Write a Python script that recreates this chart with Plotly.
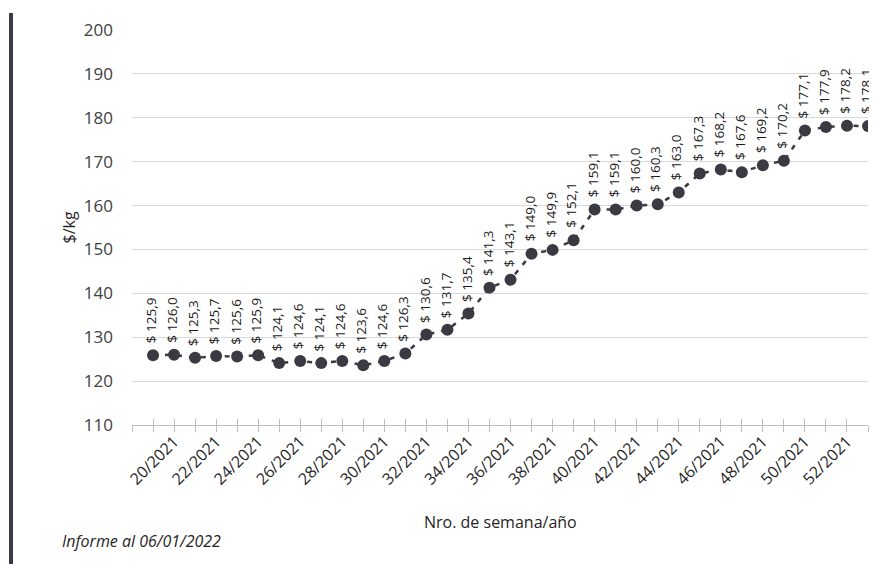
import plotly.graph_objects as go

weeks = ["19/2021", "20/2021", "21/2021", "22/2021", "23/2021", "24/2021", "25/2021",
         "26/2021", "27/2021", "28/2021", "29/2021", "30/2021", "31/2021", "32/2021",
         "33/2021", "34/2021", "35/2021", "36/2021", "37/2021", "38/2021", "39/2021",
         "40/2021", "41/2021", "42/2021", "43/2021", "44/2021", "45/2021", "46/2021",
         "47/2021", "48/2021", "49/2021", "50/2021", "51/2021", "52/2021", "53/2021"]
prices = [125.9, 126.0, 125.3, 125.7, 125.6, 125.9, 124.1, 124.6, 124.1, 124.6, 123.6,
          124.6, 126.3, 130.6, 131.7, 135.4, 141.3, 143.1, 149.0, 149.9, 152.1, 159.1,
          159.1, 160.0, 160.3, 163.0, 167.3, 168.2, 167.6, 169.2, 170.2, 177.1, 177.9,
          178.2, 178.1]
tick_labels = weeks[1::2]

# page body has an 8px margin: the figure starts at (8, 8) in the window
OFF = 8
W, H = 877 - OFF, 564 - OFF
L, R, T, B = 132 - OFF, 9, 30 - OFF, 139
pw, ph = W - L - R, H - T - B

line_color = "#3a3a42"
font_family = "Open Sans"

fig = go.Figure()
fig.add_trace(go.Scatter(
    x=weeks, y=prices, mode="lines+markers",
    line=dict(color=line_color, width=2.5, dash="5px,7px"),
    marker=dict(color=line_color, size=12),
    hoverinfo="x+y", showlegend=False,
))

annotations = []
for w, v in zip(weeks, prices):
    annotations.append(dict(
        x=w, y=v, xref="x", yref="y", text="$ " + f"{v:.1f}".replace(".", ","),
        textangle=-90, showarrow=False, xanchor="center", yanchor="bottom",
        yshift=10, xshift=-2, font=dict(family=font_family, size=13.5, color="#1a1a1a"),
    ))

annotations.append(dict(
    x=0.5, y=0, xref="paper", yref="paper", text="Nro. de semana/año",
    showarrow=False, xanchor="center", yanchor="middle", yshift=-97,
    font=dict(family=font_family, size=16, color="#262626"),
))
annotations.append(dict(
    x=(60 - OFF - L) / pw, y=0, xref="paper", yref="paper",
    text="<i>Informe al 06/01/2022</i>",
    showarrow=False, xanchor="left", yanchor="middle", yshift=-116,
    font=dict(family=font_family, size=16, color="#262626"),
))
annotations.append(dict(
    x=(68 - OFF - L) / pw, y=0.5, xref="paper", yref="paper", text="$/kg",
    textangle=-90, showarrow=False, xanchor="center", yanchor="middle",
    font=dict(family=font_family, size=16, color="#262626"),
))

fig.update_layout(
    width=W, height=H,
    margin=dict(l=L, r=R, t=T, b=B, autoexpand=False),
    paper_bgcolor="white", plot_bgcolor="white",
    xaxis=dict(
        type="category", categoryorder="array", categoryarray=weeks,
        range=[-1, len(weeks) - 1], tickmode="array", tickvals=tick_labels,
        ticktext=tick_labels, tickangle=-45, ticks="", showgrid=False,
        showline=True, linecolor="#bfbfbf", linewidth=1, zeroline=False,
        tickfont=dict(family=font_family, size=16, color="#262626"),
    ),
    xaxis2=dict(
        overlaying="x", anchor="y", type="linear", range=[-1, len(weeks) - 1],
        tickmode="linear", tick0=0, dtick=1, ticks="outside", ticklen=6,
        tickcolor="#bfbfbf", showticklabels=False, showgrid=False, showline=False,
        zeroline=False,
    ),
    xaxis3=dict(
        overlaying="x", anchor="y", type="linear", range=[-1, len(weeks) - 1],
        tickmode="linear", tick0=0, dtick=1, ticks="inside", ticklen=6,
        tickcolor="#bfbfbf", showticklabels=False, showgrid=False, showline=False,
        zeroline=False,
    ),
    yaxis=dict(
        range=[110, 200], dtick=10, tick0=110, showgrid=True, gridcolor="#d9d9d9",
        gridwidth=1, zeroline=False, showline=False, ticks="",
        ticklabelstandoff=18,
        tickfont=dict(family=font_family, size=17, color="#404040"),
    ),
    annotations=annotations,
    shapes=[dict(type="line", xref="paper", yref="paper",
                 x0=(11 - OFF - L) / pw, x1=(11 - OFF - L) / pw,
                 y0=-(B + 10) / ph, y1=1 + (T - (13 - OFF)) / ph,
                 line=dict(color="#3a3a45", width=4))],
)

fig.add_trace(go.Scatter(x=[None], y=[None], xaxis="x2", showlegend=False, hoverinfo="skip"))
fig.add_trace(go.Scatter(x=[None], y=[None], xaxis="x3", showlegend=False, hoverinfo="skip"))

fig.write_html("out.html")
